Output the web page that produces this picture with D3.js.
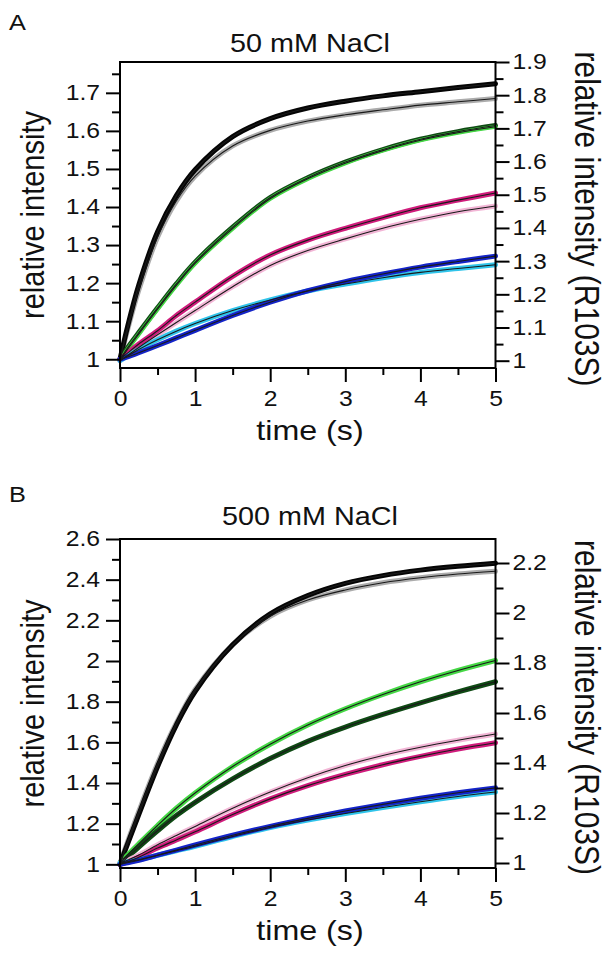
<!DOCTYPE html>
<meta charset="utf-8">
<script src="https://d3js.org/d3.v7.min.js"></script>
<style>
  body { margin: 0; background: #fff; }
  svg text { font-family: "Liberation Sans", Arial, sans-serif; fill: #111; }
</style>
<div id="chart"></div>
<script>
// sample times (s), shared by every trace
var times = [0, 0.1, 0.25, 0.5, 0.75, 1, 1.5, 2, 2.5, 3, 3.5, 4, 4.5, 5];

// panel A, 50 mM NaCl (dark = left axis, light = right axis, R103S)
var aBlack   = [1, 1.085, 1.195, 1.335, 1.43, 1.498, 1.585, 1.632, 1.66, 1.678, 1.692, 1.703, 1.714, 1.724];
var aGray    = [1, 1.092, 1.212, 1.372, 1.481, 1.556, 1.647, 1.694, 1.722, 1.741, 1.756, 1.77, 1.78, 1.79];
var aGreenD  = [1, 1.03, 1.07, 1.135, 1.198, 1.255, 1.347, 1.425, 1.477, 1.518, 1.551, 1.578, 1.598, 1.614];
var aGreenL  = [1, 1.034, 1.08, 1.155, 1.227, 1.293, 1.398, 1.488, 1.548, 1.595, 1.633, 1.664, 1.687, 1.705];
var aMagenta = [1, 1.016, 1.04, 1.075, 1.115, 1.15, 1.218, 1.274, 1.313, 1.344, 1.372, 1.398, 1.418, 1.437];
var aPink    = [1, 1.016, 1.04, 1.078, 1.115, 1.151, 1.223, 1.287, 1.332, 1.367, 1.399, 1.426, 1.449, 1.466];
var aBlue    = [1, 1.006, 1.017, 1.036, 1.056, 1.076, 1.115, 1.15, 1.18, 1.204, 1.224, 1.242, 1.257, 1.271];
var aCyan    = [1, 1.014, 1.034, 1.063, 1.089, 1.112, 1.151, 1.183, 1.21, 1.231, 1.25, 1.266, 1.278, 1.289];

// panel B, 500 mM NaCl
var bBlack   = [1, 1.1, 1.245, 1.48, 1.685, 1.85, 2.08, 2.232, 2.322, 2.382, 2.42, 2.447, 2.466, 2.481];
var bGray    = [1, 1.085, 1.207, 1.398, 1.56, 1.694, 1.873, 1.987, 2.052, 2.092, 2.121, 2.141, 2.156, 2.167];
var bGreenD  = [1, 1.035, 1.085, 1.165, 1.24, 1.305, 1.42, 1.52, 1.605, 1.675, 1.737, 1.794, 1.848, 1.898];
var bGreenL  = [1, 1.032, 1.077, 1.15, 1.219, 1.28, 1.386, 1.475, 1.552, 1.617, 1.674, 1.725, 1.77, 1.81];
var bMagenta = [1, 1.012, 1.035, 1.08, 1.12, 1.16, 1.245, 1.322, 1.387, 1.442, 1.49, 1.531, 1.567, 1.598];
var bPink    = [1, 1.011, 1.032, 1.073, 1.11, 1.146, 1.219, 1.284, 1.341, 1.39, 1.43, 1.463, 1.491, 1.516];
var bBlue    = [1, 1.008, 1.02, 1.045, 1.07, 1.095, 1.143, 1.187, 1.226, 1.262, 1.295, 1.325, 1.352, 1.376];
var bCyan    = [1, 1.005, 1.013, 1.031, 1.049, 1.067, 1.106, 1.142, 1.172, 1.198, 1.222, 1.245, 1.266, 1.284];

// tick labels
var xTicks = [0, 1, 2, 3, 4, 5];
var aLeftTicks  = [1, 1.1, 1.2, 1.3, 1.4, 1.5, 1.6, 1.7];
var aRightTicks = [1, 1.1, 1.2, 1.3, 1.4, 1.5, 1.6, 1.7, 1.8, 1.9];
var bLeftTicks  = [1, 1.2, 1.4, 1.6, 1.8, 2, 2.2, 2.4, 2.6];
var bRightTicks = [1, 1.2, 1.4, 1.6, 1.8, 2, 2.2];

var colors = {
  black: "#050505", gray: "#acacac",
  greenD: "#0f4a14", greenL: "#45d845",
  magenta: "#d01c7c", pink: "#f2b6d6",
  blue: "#1424c8", cyan: "#30c4ea"
};

var width = 605, height = 959;
var wide = 1.15;   // the original figure is drawn a little wider than tall

var svg = d3.select("#chart").append("svg")
  .attr("width", width)
  .attr("height", height);

var x = d3.scaleLinear().domain([0, 5]).range([120, 495.5]);

// widen horizontal text to match the stretched look of the figure
function stretch(sel) {
  sel.each(function() {
    var w = this.getComputedTextLength();
    d3.select(this).attr("textLength", w * wide).attr("lengthAdjust", "spacingAndGlyphs");
  });
}

function drawPanel(p) {
  var g = svg.append("g");
  var yL = d3.scaleLinear().domain(p.leftDomain).range([p.bottom, p.top]);
  var yR = d3.scaleLinear().domain(p.rightDomain).range([p.bottom, p.top]);

  function lineFor(s) {
    var y = s.axis === "right" ? yR : yL;
    return d3.line()
      .x(function(d, i) { return x(times[i]); })
      .y(function(d) { return y(d); })
      .curve(d3.curveCatmullRom.alpha(0.5))(s.values);
  }

  // measured traces
  p.series.forEach(function(s) {
    g.append("path")
      .attr("d", lineFor(s))
      .attr("fill", "none")
      .attr("stroke", s.color)
      .attr("stroke-width", s.w || 5)
      .attr("stroke-linecap", "round");
  });

  // fitted curves
  p.series.forEach(function(s) {
    g.append("path")
      .attr("d", lineFor(s))
      .attr("fill", "none")
      .attr("stroke", "#1a1a1a")
      .attr("stroke-width", 1.1);
  });

  // box
  g.append("rect")
    .attr("x", x(0)).attr("y", p.top)
    .attr("width", x(5) - x(0)).attr("height", p.bottom - p.top)
    .attr("fill", "none").attr("stroke", "#000").attr("stroke-width", 2);

  function styleAxis(sel) {
    sel.select(".domain").remove();
    sel.selectAll(".tick line").attr("stroke", "#000").attr("stroke-width", 2);
    sel.selectAll("text").style("font-size", "21.5px").attr("fill", "#111").call(stretch);
  }

  // x axis
  g.append("g").attr("transform", "translate(0," + p.bottom + ")")
    .call(d3.axisBottom(x).tickValues(d3.range(0.5, 5, 1)).tickSize(7).tickFormat(""))
    .call(styleAxis);
  g.append("g").attr("transform", "translate(0," + p.bottom + ")")
    .call(d3.axisBottom(x).tickValues(xTicks).tickSize(14).tickPadding(9).tickFormat(d3.format("d")))
    .call(styleAxis);

  // left axis
  g.append("g").attr("transform", "translate(" + x(0) + ",0)")
    .call(d3.axisLeft(yL).tickValues(p.leftMinor).tickSize(8).tickFormat(""))
    .call(styleAxis);
  g.append("g").attr("transform", "translate(" + x(0) + ",0)")
    .call(d3.axisLeft(yL).tickValues(p.leftTicks).tickSize(14).tickPadding(6).tickFormat(d3.format("~g")))
    .call(styleAxis);

  // right axis
  g.append("g").attr("transform", "translate(" + x(5) + ",0)")
    .call(d3.axisRight(yR).tickValues(p.rightMinor).tickSize(8).tickFormat(""))
    .call(styleAxis);
  g.append("g").attr("transform", "translate(" + x(5) + ",0)")
    .call(d3.axisRight(yR).tickValues(p.rightTicks).tickSize(14).tickPadding(3).tickFormat(d3.format("~g")))
    .call(styleAxis);

  // labels
  g.append("text").attr("x", 9).attr("y", p.letterY)
    .style("font-size", "22px").text(p.letter).call(stretch);
  g.append("text").attr("x", 310).attr("y", p.titleY)
    .attr("text-anchor", "middle").style("font-size", "25px").text(p.title).call(stretch);
  g.append("text").attr("x", 310).attr("y", p.bottom + 72)
    .attr("text-anchor", "middle").style("font-size", "28px").text("time (s)").call(stretch);
  var midY = (p.top + p.bottom) / 2;
  g.append("text")
    .attr("transform", "translate(44," + midY + ")rotate(-90)scale(1," + wide + ")")
    .attr("text-anchor", "middle").style("font-size", "29px").text("relative intensity");
  g.append("text")
    .attr("transform", "translate(575," + (midY + 4) + ")rotate(90)scale(1," + wide + ")")
    .attr("text-anchor", "middle").style("font-size", "30px").text("relative intensity (R103S)");
}

drawPanel({
  letter: "A", letterY: 30, title: "50 mM NaCl", titleY: 52,
  top: 62, bottom: 368,
  leftDomain: [0.977, 1.781], rightDomain: [0.978, 1.9],
  leftTicks: aLeftTicks, rightTicks: aRightTicks,
  leftMinor: d3.range(1.05, 1.76, 0.1), rightMinor: d3.range(1.05, 1.86, 0.1),
  series: [
    {values: aGray, color: colors.gray, axis: "right"},
    {values: aBlack, color: colors.black, axis: "left"},
    {values: aGreenD, color: colors.greenD, axis: "left", w: 5},
    {values: aGreenL, color: colors.greenL, axis: "right", w: 4.2},
    {values: aPink, color: colors.pink, axis: "right"},
    {values: aMagenta, color: colors.magenta, axis: "left"},
    {values: aCyan, color: colors.cyan, axis: "right"},
    {values: aBlue, color: colors.blue, axis: "left"}
  ]
});

drawPanel({
  letter: "B", letterY: 502, title: "500 mM NaCl", titleY: 525,
  top: 539, bottom: 868,
  leftDomain: [0.982, 2.6], rightDomain: [0.98, 2.296],
  leftTicks: bLeftTicks, rightTicks: bRightTicks,
  leftMinor: d3.range(1.1, 2.6, 0.2), rightMinor: d3.range(1.1, 2.25, 0.2),
  series: [
    {values: bGray, color: colors.gray, axis: "right"},
    {values: bBlack, color: colors.black, axis: "left"},
    {values: bGreenL, color: colors.greenL, axis: "right"},
    {values: bGreenD, color: colors.greenD, axis: "left"},
    {values: bPink, color: colors.pink, axis: "right"},
    {values: bMagenta, color: colors.magenta, axis: "left"},
    {values: bCyan, color: colors.cyan, axis: "right"},
    {values: bBlue, color: colors.blue, axis: "left"}
  ]
});
</script>
